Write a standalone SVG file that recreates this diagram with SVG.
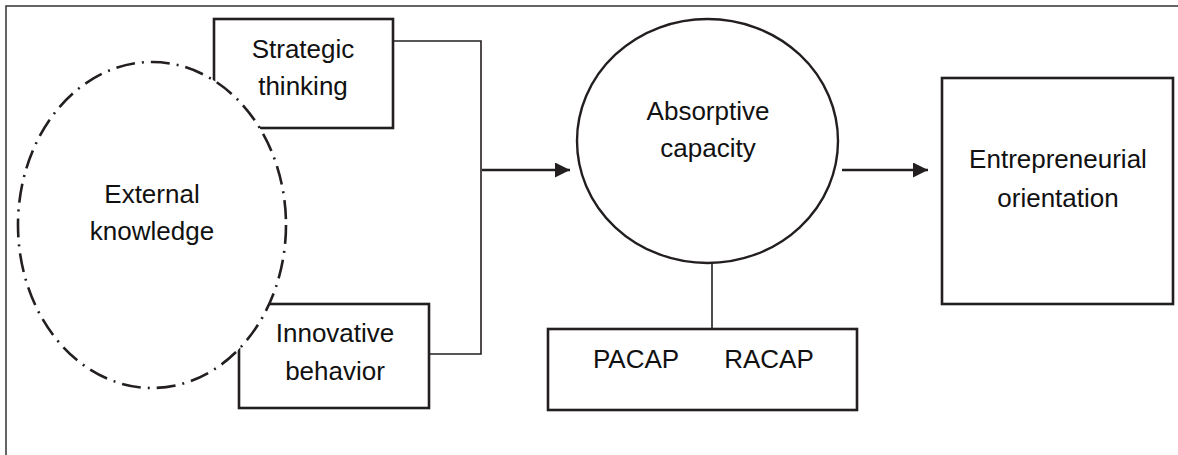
<svg xmlns="http://www.w3.org/2000/svg" width="1178" height="455" viewBox="0 0 1178 455">
  <style>
    .box { fill: #ffffff; stroke: #231f20; stroke-width: 2.6; }
    .wire { fill: none; stroke: #231f20; stroke-width: 1.6; }
    .arrow { fill: none; stroke: #231f20; stroke-width: 2.4; }
    .label { font-family: "Liberation Sans", Arial, sans-serif; font-size: 26px; fill: #111111; text-anchor: middle; }
  </style>
  <defs>
    <marker id="head" markerUnits="userSpaceOnUse" markerWidth="16" markerHeight="16" refX="15" refY="7.5" orient="auto">
      <path d="M0,0 L15,7.5 L0,15 Z" fill="#231f20"/>
    </marker>
  </defs>
  <rect width="1178" height="455" fill="#ffffff"/>

  <!-- outer frame (top and left edges) -->
  <path d="M6,455 V6 H1178" fill="none" stroke="#333333" stroke-width="1.5"/>

  <!-- connectors -->
  <g id="connectors">
    <path class="wire" d="M393,41 H481 V354 H429"/>
    <line class="arrow" x1="482" y1="170" x2="570" y2="170" marker-end="url(#head)"/>
    <line class="wire" x1="712" y1="263" x2="712" y2="329"/>
    <line class="arrow" x1="842" y1="170" x2="928" y2="170" marker-end="url(#head)"/>
  </g>

  <g id="strategic-thinking">
    <rect class="box" x="214" y="19" width="179" height="109"/>
    <text class="label" x="303" y="58">Strategic</text>
    <text class="label" x="303" y="95">thinking</text>
  </g>

  <g id="innovative-behavior">
    <rect class="box" x="239" y="304" width="190" height="104"/>
    <text class="label" x="335" y="342">Innovative</text>
    <text class="label" x="335" y="380">behavior</text>
  </g>

  <!-- white-filled ellipse drawn over the two boxes it overlaps -->
  <g id="external-knowledge">
    <ellipse cx="152" cy="225" rx="134" ry="163" fill="#ffffff" stroke="#231f20" stroke-width="2.6" stroke-dasharray="19 7 2 7"/>
    <text class="label" x="152" y="203">External</text>
    <text class="label" x="152" y="240">knowledge</text>
  </g>

  <g id="absorptive-capacity">
    <ellipse cx="707.5" cy="141" rx="130.5" ry="122" fill="#ffffff" stroke="#231f20" stroke-width="2.4"/>
    <text class="label" x="708" y="120">Absorptive</text>
    <text class="label" x="708" y="157">capacity</text>
  </g>

  <g id="acap-dimensions">
    <rect class="box" x="548" y="329" width="309" height="81"/>
    <text class="label" x="636" y="368">PACAP</text>
    <text class="label" x="769" y="368">RACAP</text>
  </g>

  <g id="entrepreneurial-orientation">
    <rect class="box" x="942" y="78" width="231" height="226"/>
    <text class="label" x="1058" y="168">Entrepreneurial</text>
    <text class="label" x="1058" y="207">orientation</text>
  </g>
</svg>
